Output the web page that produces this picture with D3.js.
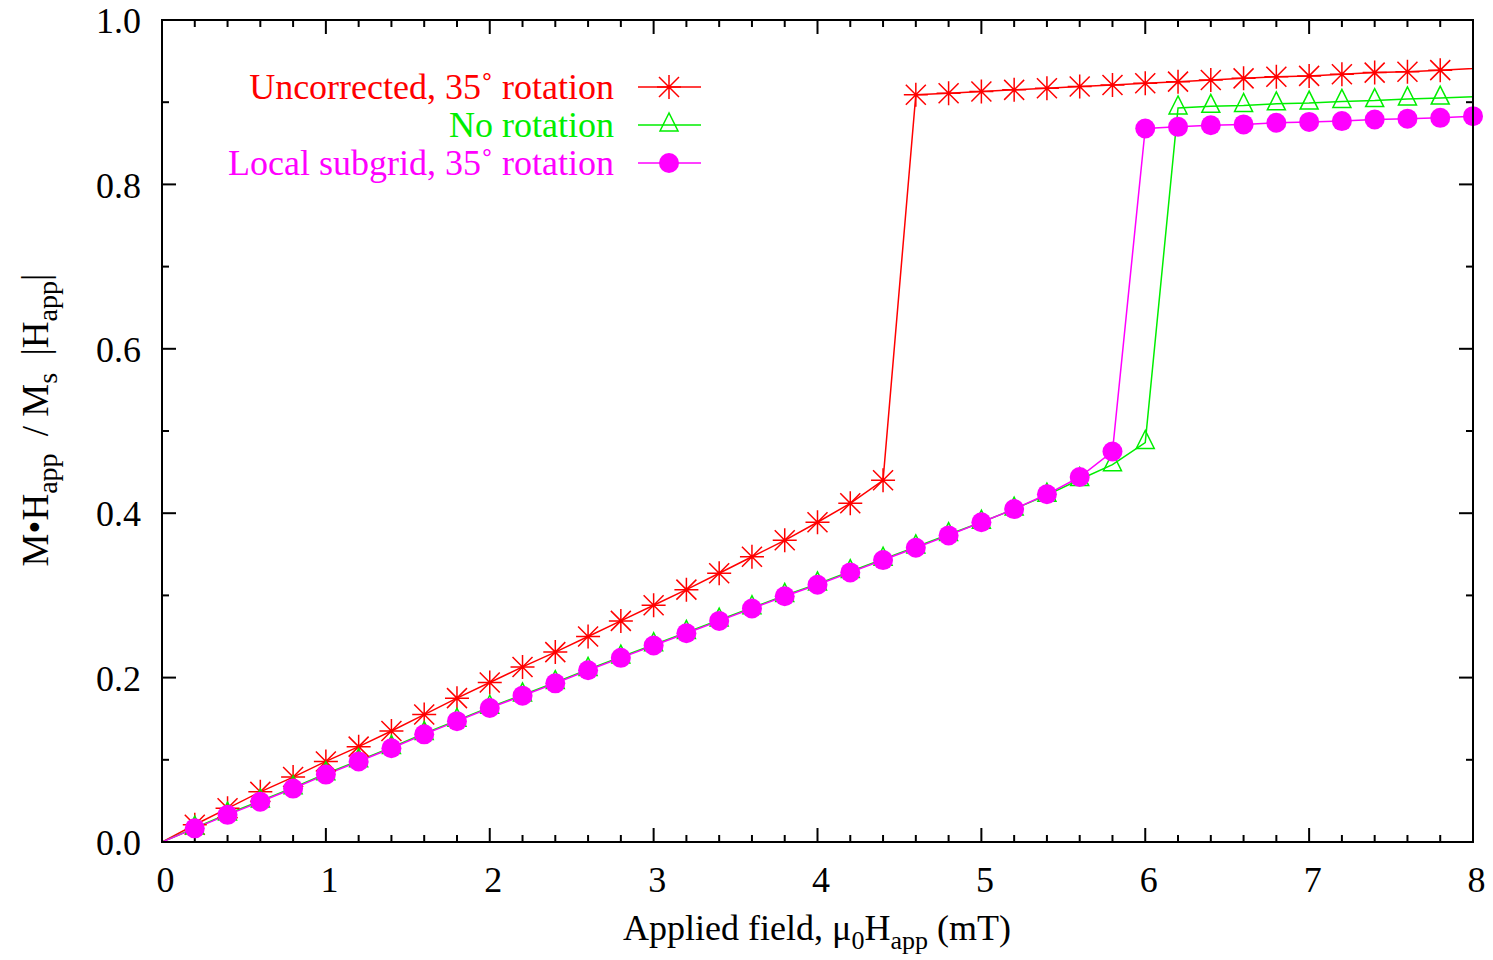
<!DOCTYPE html>
<html>
<head>
<meta charset="utf-8">
<script src="https://cdn.jsdelivr.net/npm/d3@7"></script>
<style>
  body { margin: 0; background: #fff; }
  svg { display: block; }
  text { font-family: "Liberation Serif", "DejaVu Serif", serif; }
</style>
</head>
<body>
<svg id="chart" width="1493" height="960"></svg>
<script>
// ---- data ----
const xsRed = [0,0.2,0.4,0.6,0.8,1.0,1.2,1.4,1.6,1.8,2.0,2.2,2.4,2.6,2.8,3.0,3.2,3.4,3.6,3.8,4.0,4.2,4.4,4.6,4.8,5.0,5.2,5.4,5.6,5.8,6.0,6.2,6.4,6.6,6.8,7.0,7.2,7.4,7.6,7.8,8.2];
const redValues = [0,0.021,0.041,0.061,0.079,0.098,0.116,0.135,0.155,0.175,0.194,0.213,0.231,0.250,0.269,0.288,0.307,0.327,0.347,0.367,0.389,0.412,0.440,0.909,0.911,0.913,0.915,0.917,0.919,0.921,0.923,0.925,0.927,0.929,0.931,0.932,0.934,0.936,0.937,0.939,0.943];

const xsGreen = [0,0.2,0.4,0.6,0.8,1.0,1.2,1.4,1.6,1.8,2.0,2.2,2.4,2.6,2.8,3.0,3.2,3.4,3.6,3.8,4.0,4.2,4.4,4.6,4.8,5.0,5.2,5.4,5.6,5.8,6.0,6.2,6.4,6.6,6.8,7.0,7.2,7.4,7.6,7.8,8.2];
const greenValues = [0,0.017,0.034,0.050,0.066,0.083,0.099,0.115,0.132,0.148,0.164,0.179,0.194,0.210,0.225,0.240,0.255,0.270,0.285,0.300,0.314,0.329,0.344,0.359,0.374,0.389,0.405,0.422,0.441,0.459,0.486,0.893,0.895,0.896,0.898,0.899,0.901,0.902,0.904,0.905,0.908];

const xsMagenta = [0,0.2,0.4,0.6,0.8,1.0,1.2,1.4,1.6,1.8,2.0,2.2,2.4,2.6,2.8,3.0,3.2,3.4,3.6,3.8,4.0,4.2,4.4,4.6,4.8,5.0,5.2,5.4,5.6,5.8,6.0,6.2,6.4,6.6,6.8,7.0,7.2,7.4,7.6,7.8,8.0];
const magentaValues = [0,0.0166,0.033,0.049,0.065,0.082,0.098,0.114,0.131,0.147,0.163,0.178,0.193,0.209,0.224,0.239,0.254,0.269,0.284,0.299,0.313,0.328,0.343,0.358,0.373,0.389,0.405,0.423,0.444,0.475,0.868,0.870,0.872,0.873,0.875,0.876,0.877,0.879,0.880,0.881,0.883];

const seriesNames = ["Uncorrected, 35\u02DA rotation", "No rotation", "Local subgrid, 35\u02DA rotation"];
const seriesColors = ["#ff0000", "#00ee00", "#ff00ff"];
const seriesMarkers = ["star", "triangle", "circle"];

const xTicks = [0,1,2,3,4,5,6,7,8];
const yTicks = [0.0,0.2,0.4,0.6,0.8,1.0];

// ---- layout ----
const svg = d3.select("#chart");
const L = 162, R = 1473, T = 20, B = 842;
const FS = 36, SUB = 26, SUBDY = 9;
const x = d3.scaleLinear().domain([0, 8]).range([L, R]);
const y = d3.scaleLinear().domain([0, 1]).range([B, T]);

const series = [
  { xs: xsRed, ys: redValues },
  { xs: xsGreen, ys: greenValues },
  { xs: xsMagenta, ys: magentaValues }
].map((s, i) => ({
  name: seriesNames[i], color: seriesColors[i], marker: seriesMarkers[i],
  pts: s.xs.map((v, j) => [v, s.ys[j]])
}));

svg.append("defs").append("clipPath").attr("id", "clip")
  .append("rect").attr("x", L).attr("y", T).attr("width", R - L).attr("height", B - T);

// ticks (mirrored on all sides, inward)
const ax = svg.append("g").attr("stroke", "#000").attr("stroke-width", 2);
const xMinor = d3.range(0, 8.0001, 0.2);
const yMinor = d3.range(0, 1.0001, 0.1);
xMinor.forEach(v => {
  const major = Math.abs(v - Math.round(v)) < 1e-6;
  const len = major ? 14 : 7;
  ax.append("line").attr("x1", x(v)).attr("x2", x(v)).attr("y1", B).attr("y2", B - len);
  ax.append("line").attr("x1", x(v)).attr("x2", x(v)).attr("y1", T).attr("y2", T + len);
});
yMinor.forEach(v => {
  const major = Math.abs(v * 5 - Math.round(v * 5)) < 1e-6;
  const len = major ? 14 : 7;
  ax.append("line").attr("x1", L).attr("x2", L + len).attr("y1", y(v)).attr("y2", y(v));
  ax.append("line").attr("x1", R).attr("x2", R - len).attr("y1", y(v)).attr("y2", y(v));
});

// tick labels via axes
const xAxis = d3.axisBottom(x).tickValues(xTicks).tickFormat(d3.format("d")).tickSize(0).tickPadding(0);
const gx = svg.append("g").attr("transform", `translate(3,${B + 24})`).call(xAxis);
gx.select(".domain").remove();
gx.selectAll("text").attr("font-size", FS).attr("fill", "#000")
  .attr("font-family", "Liberation Serif").attr("dy", "0.71em");

const yAxis = d3.axisLeft(y).tickValues(yTicks).tickFormat(d3.format(".1f")).tickSize(0).tickPadding(0);
const gy = svg.append("g").attr("transform", `translate(${L - 21},0)`).call(yAxis);
gy.select(".domain").remove();
gy.selectAll("text").attr("font-size", FS).attr("fill", "#000")
  .attr("font-family", "Liberation Serif").attr("dy", "0.35em");

// series lines
const line = d3.line().x(d => x(d[0])).y(d => y(d[1]));
const plot = svg.append("g").attr("clip-path", "url(#clip)");
series.forEach(s => {
  plot.append("path").datum(s.pts).attr("d", line)
    .attr("fill", "none").attr("stroke", s.color).attr("stroke-width", 1.5);
});

function drawMarker(g, type, cx, cy, color) {
  if (type === "star") {
    const s = 12, d = 10;
    const p = `M${cx - s},${cy}L${cx + s},${cy}M${cx},${cy - s}L${cx},${cy + s}` +
              `M${cx - d},${cy - d}L${cx + d},${cy + d}M${cx - d},${cy + d}L${cx + d},${cy - d}`;
    g.append("path").attr("d", p).attr("stroke", color).attr("stroke-width", 1.5).attr("fill", "none");
  } else if (type === "triangle") {
    const s = 9;
    const p = `M${cx},${cy - 1.33 * s}L${cx - s},${cy + 0.67 * s}L${cx + s},${cy + 0.67 * s}Z`;
    g.append("path").attr("d", p).attr("stroke", color).attr("stroke-width", 1.5).attr("fill", "none");
  } else {
    g.append("circle").attr("cx", cx).attr("cy", cy).attr("r", 10).attr("fill", color);
  }
}

// markers (data points inside the x range, excluding the origin)
const mk = svg.append("g");
series.forEach(s => {
  s.pts.filter(d => d[0] > 0 && d[0] <= 8.0001).forEach(d => {
    drawMarker(mk, s.marker, x(d[0]), y(d[1]), s.color);
  });
});

// frame
svg.append("rect").attr("x", L).attr("y", T).attr("width", R - L).attr("height", B - T)
  .attr("fill", "none").attr("stroke", "#000").attr("stroke-width", 2);

// legend
const leg = svg.append("g");
series.forEach((s, i) => {
  const yy = 87 + i * 38;
  leg.append("text").attr("x", 614).attr("y", yy).attr("dy", "0.33em")
    .attr("text-anchor", "end").attr("font-size", FS).attr("fill", s.color).text(s.name);
  leg.append("line").attr("x1", 638).attr("x2", 701).attr("y1", yy).attr("y2", yy)
    .attr("stroke", s.color).attr("stroke-width", 1.5);
  drawMarker(leg, s.marker, 669, yy, s.color);
});

// x title
const xt = svg.append("text").attr("x", 817).attr("y", 940).attr("text-anchor", "middle")
  .attr("font-size", FS).attr("fill", "#000");
xt.append("tspan").text("Applied field, \u03BC");
xt.append("tspan").attr("font-size", SUB).attr("dy", SUBDY).text("0");
xt.append("tspan").attr("dy", -SUBDY).text("H");
xt.append("tspan").attr("font-size", SUB).attr("dy", SUBDY).text("app");
xt.append("tspan").attr("dy", -SUBDY).text(" (mT)");

// y title
const YFS = 37, YSUB = 28;
const yt = svg.append("text").attr("transform", "translate(48,420) rotate(-90)")
  .attr("text-anchor", "middle").attr("font-size", YFS).attr("fill", "#000");
yt.append("tspan").text("M\u2022H");
yt.append("tspan").attr("font-size", YSUB).attr("dy", SUBDY).text("app");
yt.append("tspan").attr("dy", -SUBDY).attr("dx", 8).text(" / M");
yt.append("tspan").attr("font-size", YSUB).attr("dy", SUBDY).text("s");
yt.append("tspan").attr("dy", -SUBDY).attr("dx", 8).text(" |H");
yt.append("tspan").attr("font-size", YSUB).attr("dy", SUBDY).text("app");
yt.append("tspan").attr("dy", -SUBDY).text("|");
</script>
</body>
</html>
